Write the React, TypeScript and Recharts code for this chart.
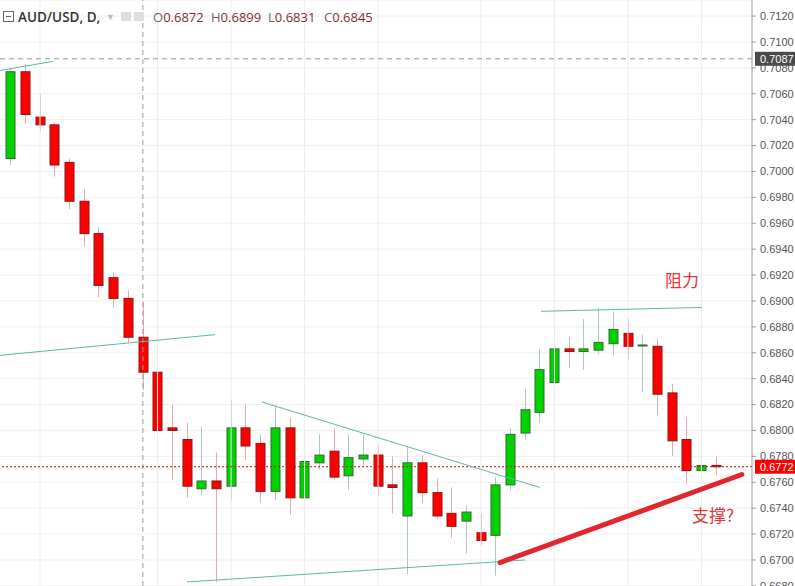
import { Bar, CartesianGrid, ComposedChart, ReferenceLine, XAxis, YAxis } from "recharts"

// daily AUD/USD candles
const opens = [
    0.7010, 0.7077, 0.7042, 0.7036, 0.7007, 0.6977, 0.6952, 0.6918, 0.6902, 0.6872,
    0.6845, 0.6802, 0.6793, 0.6755, 0.6761, 0.6757, 0.6802, 0.6790, 0.6753, 0.6802,
    0.6748, 0.6775, 0.6784, 0.6765, 0.6778, 0.6781, 0.6758, 0.6734, 0.6775, 0.6752,
    0.6736, 0.6730, 0.6721, 0.6719, 0.6758, 0.6798, 0.6814, 0.6837, 0.6863, 0.6861,
    0.6862, 0.6867, 0.6875, 0.6866, 0.6865, 0.6829, 0.6793, 0.6769, 0.6773,
]
const highs = [
    0.7080, 0.7083, 0.7060, 0.7038, 0.7010, 0.6986, 0.6957, 0.6922, 0.6908, 0.6899,
    0.6869, 0.6820, 0.6806, 0.6803, 0.6783, 0.6824, 0.6820, 0.6797, 0.6819, 0.6810,
    0.6791, 0.6797, 0.6802, 0.6797, 0.6797, 0.6789, 0.6780, 0.6787, 0.6781, 0.6763,
    0.6756, 0.6742, 0.6736, 0.6764, 0.6802, 0.6832, 0.6863, 0.6878, 0.6872, 0.6886,
    0.6895, 0.6892, 0.6886, 0.6874, 0.6871, 0.6836, 0.6810, 0.6782, 0.6780,
]
const lows = [
    0.7005, 0.7037, 0.7031, 0.6996, 0.6971, 0.6942, 0.6903, 0.6895, 0.6868, 0.6831,
    0.6795, 0.6762, 0.6748, 0.6750, 0.6683, 0.6746, 0.6777, 0.6744, 0.6746, 0.6735,
    0.6744, 0.6770, 0.6762, 0.6754, 0.6773, 0.6749, 0.6736, 0.6689, 0.6744, 0.6732,
    0.6717, 0.6705, 0.6711, 0.6688, 0.6754, 0.6793, 0.6806, 0.6836, 0.6848, 0.6847,
    0.6859, 0.6858, 0.6854, 0.6830, 0.6812, 0.6780, 0.6759, 0.6766, 0.6766,
]
const closes = [
    0.7077, 0.7044, 0.7036, 0.7005, 0.6977, 0.6952, 0.6912, 0.6902, 0.6872, 0.6845,
    0.6800, 0.6800, 0.6757, 0.6761, 0.6755, 0.6802, 0.6788, 0.6753, 0.6802, 0.6748,
    0.6776, 0.6781, 0.6764, 0.6779, 0.6781, 0.6757, 0.6756, 0.6775, 0.6752, 0.6734,
    0.6726, 0.6737, 0.6715, 0.6758, 0.6797, 0.6816, 0.6847, 0.6863, 0.6861, 0.6863,
    0.6868, 0.6878, 0.6865, 0.6866, 0.6828, 0.6792, 0.6769, 0.6773, 0.6772,
]

const priceTicks = [
    0.668, 0.670, 0.672, 0.674, 0.676, 0.678, 0.680, 0.682, 0.684, 0.686, 0.688, 0.690,
    0.692, 0.694, 0.696, 0.698, 0.700, 0.702, 0.704, 0.706, 0.708, 0.710, 0.712,
]
// bars where the date grid lines fall
const gridBars = [2, 10, 15, 20, 25, 32, 37, 42, 47]

const lastPrice = 0.6772
const prevHigh = 0.7087
const hoverBar = 9

// drawn trend lines: [bar index, price] pairs
const trendTopLeft = [{ x: -0.72, y: 0.7078 }, { x: 2.88, y: 0.7085 }]
const trendMidLeft = [{ x: -0.72, y: 0.6858 }, { x: 13.9, y: 0.6874 }]
const trendFalling = [{ x: 17.1, y: 0.6822 }, { x: 36.0, y: 0.6756 }]
const trendBottom = [{ x: 12.0, y: 0.6683 }, { x: 35.0, y: 0.6700 }]
const resistance = [{ x: 36.08, y: 0.6892 }, { x: 47.04, y: 0.6895 }]
const support = [{ x: 33.3, y: 0.6698 }, { x: 49.75, y: 0.6766 }]

const rows = opens.map((open, i) => ({
    idx: i,
    open,
    high: highs[i],
    low: lows[i],
    close: closes[i],
}))

const teal = "#5db6a8"

const Candle = (props: any) => {
    const { x, y, width, height, payload } = props
    const { open, high, low, close } = payload
    const top = Math.min(y, y + height)
    const span = Math.abs(height)
    const k = high > low ? span / (high - low) : 0
    const py = (p: number) => top + (high - p) * k
    const up = close >= open
    const bodyTop = py(Math.max(open, close))
    const bodyH = Math.max(1, py(Math.min(open, close)) - bodyTop)
    const cx = Math.round(x + width / 2) + 0.5
    return (
        <g>
            <line x1={cx} x2={cx} y1={top} y2={top + span} stroke={up ? "#a9c8cb" : "#ebaaaa"} />
            <rect
                x={cx - width / 2 + 0.5}
                y={bodyTop}
                width={width - 1}
                height={bodyH}
                fill={up ? "#00d200" : "#ff0000"}
                stroke={up ? "#2c6e2c" : "#8a1414"}
            />
        </g>
    )
}

const priceTag = (value: number, bg: string) => (props: any) => {
    const vb = props.viewBox || {}
    const left = vb.x + vb.width + 3
    return (
        <g>
            <rect x={left} y={vb.y - 7} width={43} height={14} fill={bg} />
            <text
                x={left + 5}
                y={vb.y + 4}
                fill="#fff"
                fontSize={11}
                fontFamily='"Liberation Sans", Arial, sans-serif'
            >
                {value.toFixed(4)}
            </text>
        </g>
    )
}

const Header = () => {
    const base = {
        position: "absolute" as const,
        top: 9,
        fontFamily: '"Open Sans", sans-serif',
        fontSize: 13,
        lineHeight: "16px",
        whiteSpace: "nowrap" as const,
    }
    const ohlc = [
        ["O", opens[hoverBar], 153],
        ["H", highs[hoverBar], 211],
        ["L", lows[hoverBar], 268],
        ["C", closes[hoverBar], 324],
    ] as const
    return (
        <>
            <div
                style={{
                    position: "absolute",
                    left: 3,
                    top: 11,
                    width: 9,
                    height: 9,
                    border: "1px solid #666",
                }}
            >
                <div style={{ position: "absolute", left: 2, top: 4, width: 5, height: 1, background: "#666" }} />
            </div>
            <div style={{ ...base, left: 18, color: "#333", fontWeight: 600, fontSize: 13.5 }}>AUD/USD, D,</div>
            <div style={{ ...base, left: 106, color: "#bbb", fontSize: 9 }}>▼</div>
            <div style={{ position: "absolute", left: 121, top: 12, width: 10, height: 9, background: "#dedede" }} />
            <div style={{ position: "absolute", left: 134, top: 12, width: 10, height: 9, background: "#dedede" }} />
            {ohlc.map(([k, v, left]) => (
                <div key={k} style={{ ...base, left }}>
                    <span style={{ color: "#666" }}>{k}</span>
                    <span style={{ color: "#7d2f2f" }}>{v.toFixed(4)}</span>
                </div>
            ))}
        </>
    )
}

const noteStyle = {
    position: "absolute" as const,
    fontFamily: '"Noto Sans CJK SC", sans-serif',
    fontSize: 17,
    color: "#e2363c",
    lineHeight: "20px",
}

const App = () => {
    return (
        <div style={{ position: "absolute", left: 0, top: 0, width: 795, height: 586, background: "#fff" }}>
            <ComposedChart width={795} height={586} data={rows} margin={{ top: 0, right: 0, left: 0, bottom: 0 }}>
                <CartesianGrid stroke="#efefef" vertical={false} />
                <XAxis
                    dataKey="idx"
                    type="number"
                    domain={[-0.721, 50.44]}
                    allowDataOverflow
                    hide
                />
                <YAxis
                    orientation="right"
                    type="number"
                    domain={[0.66799, 0.71324]}
                    allowDataOverflow
                    ticks={priceTicks}
                    interval={0}
                    width={43}
                    tickSize={4}
                    tickMargin={4}
                    tickFormatter={(v: number) => v.toFixed(4)}
                    tick={{ fontSize: 11, fill: "#555", fontFamily: '"Liberation Sans", Arial, sans-serif' }}
                    tickLine={{ stroke: "#999" }}
                    axisLine={{ stroke: "#999" }}
                />
                {gridBars.map((b) => (
                    <ReferenceLine key={b} x={b} stroke="#ececec" />
                ))}
                <ReferenceLine y={prevHigh} stroke="#9a9a9a" strokeDasharray="5 4" label={priceTag(prevHigh, "#4a4a4a")} />
                <ReferenceLine x={hoverBar} stroke="#9a9a9a" strokeDasharray="5 4" />
                <ReferenceLine y={lastPrice} stroke="#d01010" strokeDasharray="2 2" label={priceTag(lastPrice, "#ff0000")} />
                <Bar
                    dataKey={(d: any) => [d.low, d.high]}
                    barSize={10}
                    shape={<Candle />}
                    isAnimationActive={false}
                />
                <ReferenceLine segment={trendTopLeft} stroke={teal} ifOverflow="visible" />
                <ReferenceLine segment={trendMidLeft} stroke={teal} ifOverflow="visible" />
                <ReferenceLine segment={trendFalling} stroke={teal} ifOverflow="visible" />
                <ReferenceLine segment={trendBottom} stroke={teal} ifOverflow="visible" />
                <ReferenceLine segment={resistance} stroke={teal} ifOverflow="visible" />
                <ReferenceLine segment={support} stroke="#e3262c" strokeWidth={5} strokeLinecap="round" ifOverflow="visible" />
            </ComposedChart>
            <Header />
            <div style={{ ...noteStyle, left: 665, top: 270 }}>阻力</div>
            <div style={{ ...noteStyle, left: 692, top: 505 }}>支撑?</div>
        </div>
    )
}

export default App
